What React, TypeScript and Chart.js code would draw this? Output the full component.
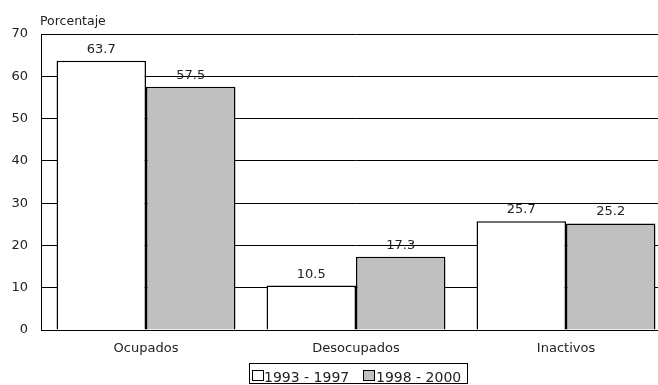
import { useEffect, useRef } from "react";
import { Chart, registerables } from "chart.js";

Chart.register(...registerables);

const categories = ["Ocupados", "Desocupados", "Inactivos"];
const seriesNames = ["1993 - 1997", "1998 - 2000"];
const valuesEarly = [63.7, 10.5, 25.7];
const valuesLate = [57.5, 17.3, 25.2];
const yMin = 0;
const yMax = 70;
const yStep = 10;
const axisTitle = "Porcentaje";

const FONT = "'DejaVu Sans', sans-serif";
const TEXT = "#222";
const FILLS = ["#ffffff", "#c0c0c0"];

const annotate = {
  id: "annotate",
  afterDatasetsDraw(chart: any) {
    const ctx = chart.ctx;
    ctx.save();
    ctx.fillStyle = TEXT;
    ctx.font = `13px ${FONT}`;
    ctx.textAlign = "center";
    ctx.textBaseline = "alphabetic";
    chart.data.datasets.forEach((ds: any, i: number) => {
      const meta = chart.getDatasetMeta(i);
      meta.data.forEach((bar: any, j: number) => {
        ctx.fillText(Number(ds.data[j]).toFixed(1), bar.x, bar.y - 8);
      });
    });
    ctx.restore();
  },
  afterDraw(chart: any) {
    const ctx = chart.ctx;
    const area = chart.chartArea;
    ctx.save();
    // axis caption above the plot
    ctx.fillStyle = TEXT;
    ctx.font = `12.5px ${FONT}`;
    ctx.textAlign = "left";
    ctx.textBaseline = "alphabetic";
    ctx.fillText(axisTitle, area.left - 1, 25);

    // framed legend below the category labels
    ctx.strokeStyle = "#000";
    ctx.lineWidth = 1;
    ctx.strokeRect(249.5, 363.5, 218, 20);
    ctx.font = `14px ${FONT}`;
    const items = [
      { box: 252.5, text: 264 },
      { box: 363.5, text: 376 },
    ];
    items.forEach((it, i) => {
      ctx.fillStyle = FILLS[i];
      ctx.fillRect(it.box, 370.5, 11, 10);
      ctx.strokeStyle = "#000";
      ctx.strokeRect(it.box, 370.5, 11, 10);
      ctx.fillStyle = TEXT;
      ctx.fillText(seriesNames[i], it.text, 381.5);
    });
    ctx.restore();
  },
};

export default function App() {
  const canvasRef = useRef<HTMLCanvasElement | null>(null);

  useEffect(() => {
    if (!canvasRef.current) return;
    const chart = new Chart(canvasRef.current, {
      type: "bar",
      data: {
        labels: categories,
        datasets: [
          {
            label: seriesNames[0],
            data: valuesEarly,
            backgroundColor: FILLS[0],
            borderColor: "#000",
            borderWidth: 1.5,
          },
          {
            label: seriesNames[1],
            data: valuesLate,
            backgroundColor: FILLS[1],
            borderColor: "#000",
            borderWidth: 1.5,
          },
        ],
      },
      options: {
        responsive: false,
        animation: false,
        events: [],
        layout: { padding: { left: 0, right: 29, top: 34, bottom: 0 } },
        datasets: {
          bar: { categoryPercentage: 0.852, barPercentage: 1 },
        },
        plugins: {
          legend: { display: false },
          tooltip: { enabled: false },
          title: { display: false },
        },
        scales: {
          x: {
            grid: { display: true, color: "rgba(0,0,0,0)", drawTicks: false },
            border: { display: true, color: "#000", width: 1 },
            ticks: {
              color: TEXT,
              font: { family: FONT, size: 13 },
              padding: 11,
            },
            afterFit(scale: any) {
              scale.height = 55;
            },
          },
          y: {
            min: yMin,
            max: yMax,
            grid: { color: "#000", lineWidth: 1, drawTicks: false },
            border: { display: true, color: "#000", width: 1 },
            ticks: {
              stepSize: yStep,
              color: TEXT,
              font: { family: FONT, size: 13 },
              padding: 13,
            },
            afterFit(scale: any) {
              scale.width = 41;
            },
          },
        },
      },
      plugins: [annotate],
    });
    return () => chart.destroy();
  }, []);

  return (
    <div
      style={{
        position: "fixed",
        left: 0,
        top: 0,
        width: 658,
        height: 385,
        overflow: "hidden",
        background: "#fff",
      }}
    >
      <canvas ref={canvasRef} width={700} height={385} style={{ display: "block" }} />
    </div>
  );
}
